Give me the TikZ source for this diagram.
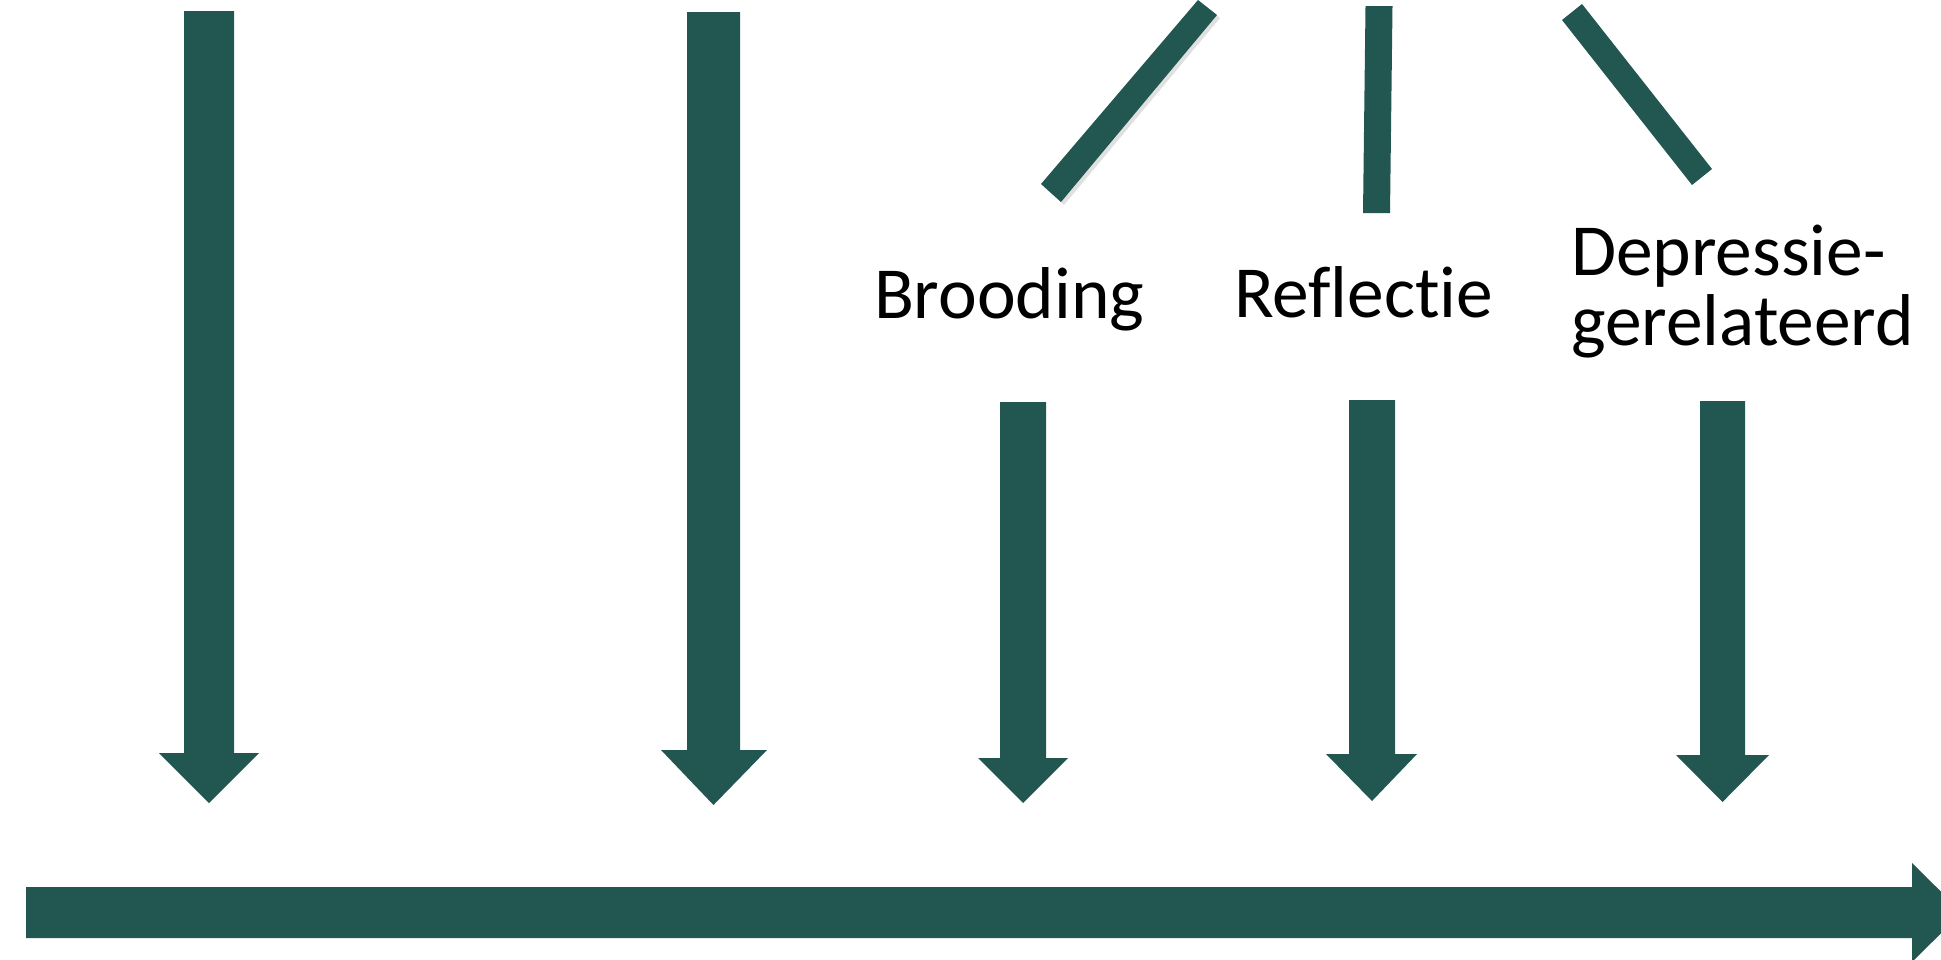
\documentclass[tikz,border=0pt]{standalone}
\usepackage{fontspec}
\setmainfont[Ligatures=NoCommon]{Carlito}
\definecolor{bargreen}{RGB}{33,87,80}
\tikzset{
  bar/.style={fill=bargreen, draw=none},
  lbl/.style={anchor=base west, inner sep=0pt, outer sep=0pt, font=\fontsize{36.7}{35}\selectfont, text=black},
  barshadow/.style={fill=black, opacity=0.12, draw=none}
}
\begin{document}
\begin{tikzpicture}[x=0.5pt, y=-0.5pt]
\useasboundingbox (0,0) rectangle (1941,959);
\begin{scope}
\clip (0,0) rectangle (1941,959);
% down arrow 1
\fill[bar] (184,11) -- (234,11) -- (234,753) -- (259,753) -- (209,803) -- (159,753) -- (184,753) -- cycle;
% down arrow 2
\fill[bar] (687,12) -- (740,12) -- (740,750) -- (767,750) -- (713.5,805) -- (661,750) -- (687,750) -- cycle;
% down arrow 3 (Brooding)
\fill[bar] (1000,402) -- (1046,402) -- (1046,758) -- (1068,758) -- (1023,803) -- (978,758) -- (1000,758) -- cycle;
% down arrow 4 (Reflectie)
\fill[bar] (1349,400) -- (1395,400) -- (1395,754) -- (1417,754) -- (1372,801) -- (1326,754) -- (1349,754) -- cycle;
% down arrow 5 (Depressie-gerelateerd)
\fill[bar] (1700,401) -- (1745,401) -- (1745,755) -- (1769,755) -- (1722.5,802) -- (1676,755) -- (1700,755) -- cycle;
% horizontal arrow
\fill[bar] (26,887) -- (1912,887) -- (1912,863) -- (1962,912.5) -- (1912,962) -- (1912,938) -- (26,938) -- cycle;
% diagonal bar left (with soft shadow)
\fill[barshadow] (1201,3) -- (1220,18) -- (1064,205) -- (1044,187) -- cycle;
\fill[bar] (1198,0) -- (1217,15) -- (1061,202) -- (1041,184) -- cycle;
% vertical bar middle
\fill[bar] (1365.5,6) -- (1392.5,6) -- (1390,213) -- (1363,213) -- cycle;
% diagonal bar right
\fill[bar] (1562,20) -- (1582,4) -- (1712,169) -- (1692,185) -- cycle;
\end{scope}
% labels
\node[lbl] (brooding) at (874,318) {Brooding};
\node[lbl] (reflectie) at (1234,317) {Reflectie};
\node[lbl, align=left] (depressie) at (1571,345) {Depressie-\\gerelateerd};
\end{tikzpicture}
\end{document}
